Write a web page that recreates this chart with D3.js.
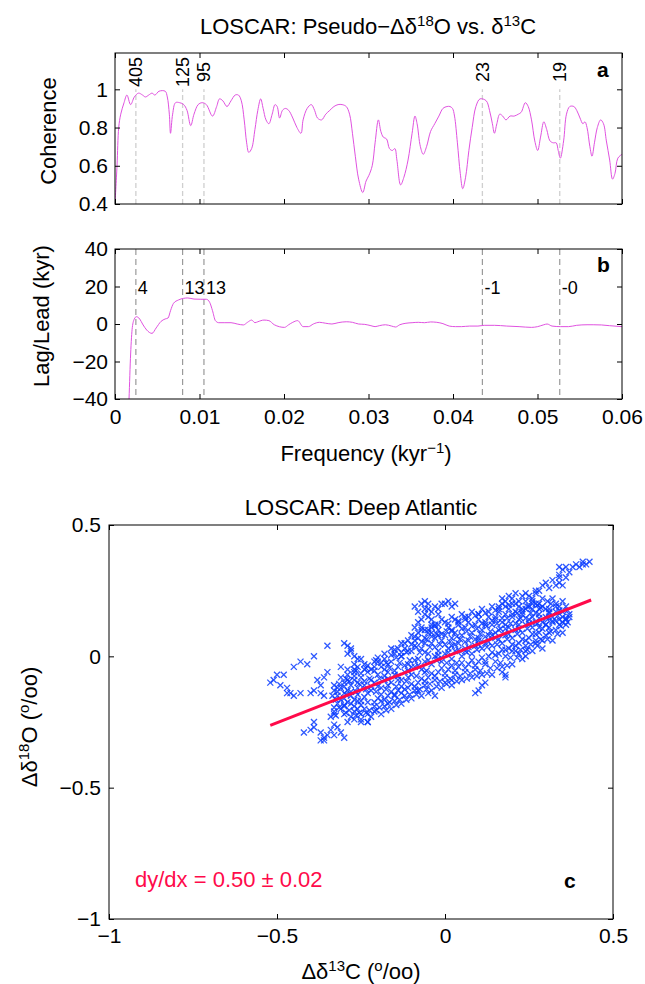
<!DOCTYPE html>
<html>
<head>
<meta charset="utf-8">
<script src="https://d3js.org/d3.v7.min.js"></script>
<style>
  body { margin: 0; background: #fff; }
  svg { font-family: "Liberation Sans", Arial, Helvetica, sans-serif; }
</style>
</head>
<body>
<svg width="645" height="984"></svg>
<script>
// orbital periods (kyr) marked with dashed lines, and the lag read at each
var periods = [405, 125, 95, 23, 19];
var lagLabels = ["4", "13", "13", "-1", "-0"];

// panel a: coherence vs frequency (kyr^-1)
var cohFreq = [0,0.00024,0.00044,0.00068,0.00107,0.00141,0.00185,0.00229,0.00278,0.00326,
  0.0036,0.00399,0.00438,0.00472,0.00521,0.00594,0.00619,0.00643,0.00657,0.00682,
  0.00716,0.00765,0.00813,0.00852,0.00896,0.00935,0.00984,0.01032,0.01081,0.01154,
  0.01203,0.01237,0.01276,0.01325,0.01373,0.01422,0.01461,0.01495,0.01529,0.01558,
  0.01583,0.01617,0.01656,0.0169,0.01724,0.01753,0.01787,0.01821,0.0186,0.01894,
  0.01919,0.01948,0.01982,0.02016,0.02055,0.02104,0.02153,0.02201,0.02226,0.02274,
  0.02323,0.02362,0.02396,0.02445,0.02494,0.02542,0.02591,0.0264,0.02688,0.02737,
  0.02776,0.0281,0.02844,0.02883,0.02932,0.02971,0.03005,0.03044,0.03078,0.03117,
  0.03146,0.03175,0.03214,0.03248,0.03282,0.03312,0.03336,0.0338,0.03419,0.03468,
  0.03516,0.0355,0.03575,0.03614,0.03648,0.03687,0.03735,0.03784,0.03833,0.03881,
  0.0393,0.03964,0.03994,0.04018,0.04052,0.04086,0.04115,0.04149,0.04188,0.04227,
  0.04271,0.0432,0.04393,0.04432,0.04466,0.0449,0.04519,0.04553,0.04588,0.04627,
  0.04675,0.04724,0.04773,0.04807,0.04856,0.0489,0.04929,0.04968,0.05002,0.05036,
  0.05075,0.05109,0.05148,0.05187,0.05221,0.05245,0.0527,0.05309,0.05343,0.05382,
  0.0543,0.05464,0.05503,0.05537,0.05562,0.05586,0.0562,0.05645,0.05674,0.05708,
  0.05747,0.05781,0.05815,0.05854,0.05888,0.05917,0.05951,0.06];
var cohVal = [0.40,0.60,0.80,0.87,0.93,0.97,0.92,0.96,0.98,0.97,
  0.96,0.97,0.98,0.97,0.99,0.99,0.96,0.87,0.77,0.87,
  0.93,0.93,0.92,0.89,0.81,0.87,0.92,0.93,0.92,0.86,
  0.91,0.95,0.94,0.91,0.94,0.97,0.97,0.94,0.84,0.72,
  0.67,0.69,0.79,0.89,0.95,0.90,0.84,0.82,0.87,0.92,
  0.91,0.85,0.89,0.90,0.89,0.85,0.80,0.77,0.84,0.90,
  0.92,0.89,0.85,0.84,0.87,0.89,0.91,0.92,0.92,0.91,
  0.87,0.77,0.65,0.53,0.46,0.52,0.55,0.60,0.72,0.84,
  0.78,0.75,0.74,0.69,0.68,0.69,0.63,0.50,0.54,0.63,
  0.77,0.86,0.82,0.70,0.66,0.70,0.78,0.82,0.86,0.90,
  0.91,0.91,0.90,0.86,0.72,0.56,0.48,0.54,0.68,0.80,
  0.91,0.95,0.94,0.89,0.82,0.77,0.82,0.87,0.86,0.84,
  0.86,0.86,0.87,0.88,0.93,0.91,0.84,0.73,0.68,0.75,
  0.83,0.79,0.73,0.72,0.72,0.68,0.64,0.73,0.87,0.91,
  0.91,0.89,0.85,0.82,0.83,0.80,0.70,0.65,0.72,0.80,
  0.84,0.82,0.73,0.63,0.53,0.56,0.64,0.66];

// panel b: lag/lead (kyr) vs frequency
var lagFreq = [0.0015,0.00166,0.00185,0.00205,0.00229,0.00253,0.00292,0.00326,0.00375,0.00438,
  0.00487,0.00545,0.00594,0.00628,0.00657,0.00692,0.0075,0.00813,0.00862,0.00935,
  0.01008,0.01081,0.0112,0.01154,0.01188,0.01227,0.013,0.01373,0.01446,0.01519,
  0.01568,0.01617,0.01656,0.0169,0.01763,0.01821,0.01885,0.02006,0.02055,0.02104,
  0.02162,0.02226,0.02289,0.02347,0.0242,0.02494,0.02567,0.0264,0.02737,0.0281,
  0.02883,0.02956,0.03029,0.03078,0.03127,0.032,0.03273,0.03321,0.0337,0.03443,
  0.03516,0.03589,0.03662,0.03735,0.03808,0.03881,0.03955,0.04028,0.04101,0.04198,
  0.04295,0.04369,0.0449,0.04636,0.04782,0.04929,0.05002,0.05075,0.05114,0.05172,
  0.0527,0.05367,0.05464,0.05586,0.05659,0.05756,0.05854,0.06];
var lagVal = [-60,-40,-16,-1.8,2.7,3.9,2.7,0,-3.2,-5,
  -2.1,1.4,2.7,3.2,7.1,11,12.8,13.7,13.9,13.3,
  13.2,13.2,11.6,7.1,1.8,0.7,0.7,0.7,0,-0.5,
  0.9,2.1,0.7,1.2,2.1,1.8,-0.4,-1.8,-0.4,0.9,
  1.8,-1.4,-1.4,0,0.9,0.4,0,0.7,1.2,0.9,
  0,-0.2,-0.9,-1.4,-0.9,-0.4,-1.1,-1.6,-0.4,0.4,
  0.7,0.9,0.7,1.1,0.9,0.2,-1.1,-1.4,-1.4,-1.1,
  -1.1,-0.7,-0.7,-1.1,-1.4,-1.8,-1.4,-0.4,0,-1.1,
  -1.4,-1.4,-0.7,-0.4,-0.4,-0.5,-0.9,-1.4];

// panel c: [d13C, d18O] anomalies (permil)
var scatterPts = [
  [-0.52,-0.10],[-0.51,-0.09],[-0.50,-0.07],[-0.49,-0.11],[-0.48,-0.07],[-0.47,-0.12],[-0.47,-0.14],[-0.46,-0.14],
  [-0.45,-0.15],[-0.43,-0.14],[-0.45,-0.04],[-0.43,-0.02],[-0.41,-0.03],[-0.39,0.00],[-0.35,0.04],[-0.40,-0.14],
  [-0.39,-0.13],[-0.37,-0.11],[-0.38,-0.09],[-0.36,-0.08],[-0.35,-0.06],[-0.37,-0.14],[-0.36,-0.15],
  [-0.30,0.05],[-0.29,0.04],[-0.28,0.03],[-0.28,0.02],[-0.27,0.00],[-0.26,-0.01],[-0.25,-0.01],[-0.29,0.01],
  [-0.27,-0.03],[-0.31,-0.04],[-0.29,-0.05],[-0.27,-0.05],
  [-0.42,-0.29],[-0.40,-0.28],[-0.39,-0.25],[-0.39,-0.27],[-0.37,-0.29],[-0.36,-0.31],[-0.36,-0.32],[-0.37,-0.32],
  [-0.35,-0.30],[-0.33,-0.30],[-0.30,-0.31],[-0.34,-0.28],[-0.32,-0.27],[-0.31,-0.29],[-0.33,-0.26],[-0.29,-0.25],
  [-0.27,-0.24],[-0.25,-0.25],[-0.23,-0.25],[-0.34,-0.23],[-0.33,-0.22],
  [-0.09,0.19],[-0.07,0.20],[-0.06,0.21],[-0.05,0.20],[-0.03,0.19],[-0.01,0.20],[0.00,0.20],[0.02,0.19],
  [-0.05,0.18],[-0.05,0.15],[-0.04,0.14],[-0.08,0.13],[-0.07,0.11],[-0.09,0.11],[-0.04,0.11],[-0.03,0.12],[-0.06,0.16],
  [0.23,0.23],[0.24,0.24],[0.26,0.22],[0.27,0.25],[0.29,0.27],[0.30,0.28],[0.32,0.29],[0.34,0.28],[0.34,0.30],
  [0.35,0.33],[0.34,0.34],[0.37,0.32],[0.38,0.34],[0.40,0.34],[0.41,0.35],[0.41,0.36],[0.43,0.36],[0.33,0.27],
  [0.35,0.27],[0.28,0.25],[0.27,0.24],[0.31,0.26],[0.36,0.34],[0.39,0.35],[0.42,0.35],[0.36,0.30],[0.34,0.31],
  [0.36,0.14],[0.37,0.15],[0.35,0.13],[0.32,0.13],[0.28,0.11],[0.31,0.09],[0.29,0.06],[0.27,0.05],[0.24,0.02],
  [0.24,0.00],[0.22,0.01],[0.20,0.02],[0.18,-0.07],[0.18,-0.08],[0.17,-0.06],[0.11,-0.11],[0.10,-0.13],[0.12,-0.10],
  [0.09,-0.14],[0.02,-0.11],[0.00,-0.10],[-0.03,-0.15],[-0.05,-0.14],[-0.08,-0.13],[-0.13,-0.14],[-0.15,-0.15],
  [-0.17,-0.18],[-0.19,-0.17],[-0.21,-0.19],[-0.23,-0.22],[-0.23,-0.25],[-0.25,-0.22],[-0.26,-0.20],[-0.28,-0.18],
  [-0.30,-0.19],[-0.32,-0.15],[-0.33,-0.13],[-0.31,-0.12],[-0.29,-0.09],[-0.27,-0.06],[-0.24,-0.05],[-0.21,-0.04],
  [-0.17,-0.03],[-0.13,0.00],[-0.11,0.02],[-0.09,0.06],[-0.06,0.07],[-0.04,0.09],[-0.02,0.08],[0.02,0.10],
  [0.04,0.13],[0.06,0.14],[0.10,0.16],[0.12,0.13],[0.15,0.15],[0.16,0.19],[0.18,0.21],[0.20,0.20],[0.23,0.17],
  [0.25,0.19],[0.28,0.18],[0.31,0.18],[0.33,0.20],
  [-0.33,-0.21],[-0.32,-0.18],[-0.335,-0.15],[-0.32,-0.12],
  [-0.30,-0.22],[-0.31,-0.20],[-0.30,-0.16],[-0.29,-0.13],[-0.30,-0.10],[-0.31,-0.08],
  [-0.27,-0.21],[-0.28,-0.15],[-0.26,-0.12],[-0.27,-0.09],[-0.28,-0.11],[-0.26,-0.17],[-0.27,-0.19],
  [-0.24,-0.20],[-0.25,-0.17],[-0.23,-0.14],[-0.24,-0.11],[-0.25,-0.08],[-0.23,-0.06],[-0.24,-0.03],
  [-0.21,-0.21],[-0.20,-0.16],[-0.22,-0.13],[-0.21,-0.10],[-0.20,-0.07],[-0.22,-0.05],[-0.21,-0.02],
  [-0.18,-0.19],[-0.17,-0.15],[-0.19,-0.12],[-0.18,-0.09],[-0.17,-0.06],[-0.19,-0.04],[-0.18,-0.01],[-0.17,-0.11],
  [-0.15,-0.17],[-0.14,-0.13],[-0.16,-0.10],[-0.15,-0.07],[-0.14,-0.04],[-0.16,-0.02],[-0.15,0.01],
  [-0.12,-0.15],[-0.11,-0.12],[-0.13,-0.09],[-0.12,-0.06],[-0.11,-0.03],[-0.13,0.00],[-0.12,0.03],[-0.11,-0.08],
  [-0.09,-0.13],[-0.08,-0.10],[-0.10,-0.07],[-0.09,-0.04],[-0.08,-0.01],[-0.10,0.02],[-0.09,0.04],[-0.08,0.07],
  [-0.06,-0.11],[-0.05,-0.08],[-0.07,-0.05],[-0.06,-0.02],[-0.05,0.01],[-0.07,0.03],[-0.06,0.05],[-0.05,0.09],
  [-0.03,-0.09],[-0.02,-0.06],[-0.04,-0.03],[-0.03,0.00],[-0.02,0.02],[-0.04,0.05],[-0.03,0.07],[-0.02,0.10],
  [0.00,-0.08],[0.01,-0.05],[-0.01,-0.02],[0.00,0.01],[0.01,0.03],[-0.01,0.06],[0.00,0.08],[0.01,0.11],
  [0.03,-0.07],[0.04,-0.04],[0.02,-0.01],[0.03,0.02],[0.04,0.05],[0.02,0.07],[0.03,0.09],[0.04,0.12],
  [0.06,-0.06],[0.07,-0.03],[0.05,0.00],[0.06,0.03],[0.07,0.06],[0.05,0.08],[0.06,0.11],[0.07,0.13],
  [0.09,-0.05],[0.10,-0.02],[0.08,0.01],[0.09,0.04],[0.10,0.07],[0.08,0.09],[0.09,0.12],[0.10,0.14],
  [0.12,-0.03],[0.13,0.00],[0.11,0.03],[0.12,0.05],[0.13,0.08],[0.11,0.10],[0.12,0.12],[0.13,0.15],
  [0.15,-0.02],[0.16,0.01],[0.14,0.04],[0.15,0.07],[0.16,0.10],[0.14,0.12],[0.15,0.14],[0.16,0.17],
  [0.18,0.00],[0.19,0.03],[0.17,0.05],[0.18,0.08],[0.19,0.11],[0.17,0.13],[0.18,0.16],[0.19,0.18],
  [0.21,0.02],[0.22,0.05],[0.20,0.07],[0.21,0.10],[0.22,0.12],[0.20,0.15],[0.21,0.17],[0.22,0.19],
  [0.24,0.04],[0.25,0.07],[0.23,0.09],[0.24,0.12],[0.25,0.14],[0.23,0.16],[0.24,0.18],
  [0.27,0.06],[0.28,0.09],[0.26,0.11],[0.27,0.13],[0.28,0.16],[0.26,0.18],[0.27,0.20],
  [0.30,0.08],[0.31,0.11],[0.29,0.13],[0.30,0.15],[0.31,0.17],[0.29,0.19],
  [0.33,0.10],[0.34,0.12],[0.32,0.15],[0.33,0.17],[0.34,0.19],
  [0.36,0.12],[0.37,0.16],[0.35,0.17],[0.36,0.19],
  [-0.315,-0.195],[-0.31,-0.165],[-0.32,-0.135],[-0.315,-0.105],
  [-0.285,-0.205],[-0.29,-0.175],[-0.28,-0.135],[-0.285,-0.095],[-0.29,-0.07],
  [-0.255,-0.215],[-0.25,-0.185],[-0.26,-0.145],[-0.255,-0.105],[-0.25,-0.065],[-0.26,-0.04],
  [-0.225,-0.205],[-0.23,-0.175],[-0.22,-0.115],[-0.225,-0.085],[-0.23,-0.035],
  [-0.195,-0.195],[-0.19,-0.145],[-0.20,-0.115],[-0.195,-0.085],[-0.19,-0.025],[-0.20,-0.005],
  [-0.165,-0.175],[-0.16,-0.135],[-0.17,-0.085],[-0.165,-0.045],[-0.16,0.005],
  [-0.135,-0.165],[-0.13,-0.115],[-0.14,-0.075],[-0.135,-0.025],[-0.13,0.015],[-0.14,0.03],
  [-0.105,-0.145],[-0.10,-0.105],[-0.11,-0.055],[-0.105,-0.015],[-0.10,0.045],[-0.11,0.06],
  [-0.075,-0.125],[-0.07,-0.085],[-0.08,-0.035],[-0.075,0.015],[-0.07,0.055],[-0.08,0.09],
  [-0.045,-0.105],[-0.04,-0.065],[-0.05,-0.015],[-0.045,0.035],[-0.04,0.075],[-0.05,0.10],
  [-0.015,-0.095],[-0.01,-0.045],[-0.02,0.005],[-0.015,0.045],[-0.01,0.085],[-0.02,0.12],
  [0.015,-0.085],[0.02,-0.035],[0.01,0.015],[0.015,0.055],[0.02,0.095],[0.01,0.125],
  [0.045,-0.075],[0.05,-0.025],[0.04,0.025],[0.045,0.065],[0.05,0.105],[0.04,0.135],
  [0.075,-0.065],[0.08,-0.015],[0.07,0.035],[0.075,0.075],[0.08,0.115],[0.07,0.15],
  [0.105,-0.055],[0.11,-0.005],[0.10,0.045],[0.105,0.085],[0.11,0.125],[0.10,0.16],
  [0.135,-0.045],[0.14,0.015],[0.13,0.055],[0.135,0.095],[0.14,0.135],[0.13,0.17],
  [0.165,-0.025],[0.17,0.025],[0.16,0.065],[0.165,0.105],[0.17,0.145],[0.16,0.18],
  [0.195,-0.005],[0.20,0.045],[0.19,0.085],[0.195,0.125],[0.20,0.16],[0.19,0.195],
  [0.225,0.025],[0.23,0.065],[0.22,0.105],[0.225,0.145],[0.23,0.18],
  [0.255,0.045],[0.26,0.085],[0.25,0.125],[0.255,0.165],[0.26,0.20],
  [0.285,0.065],[0.29,0.105],[0.28,0.145],[0.285,0.185],
  [0.315,0.095],[0.32,0.135],[0.31,0.165],[0.315,0.20],
  [0.345,0.115],[0.35,0.15],[0.34,0.175],
  [-0.325,-0.225],[-0.33,-0.195],[-0.325,-0.165],[-0.33,-0.11],
  [-0.295,-0.215],[-0.30,-0.185],[-0.295,-0.145],[-0.30,-0.115],[-0.295,-0.085],
  [-0.265,-0.225],[-0.27,-0.165],[-0.265,-0.135],[-0.27,-0.075],[-0.265,-0.055],
  [-0.235,-0.215],[-0.24,-0.155],[-0.235,-0.125],[-0.24,-0.095],[-0.235,-0.045],
  [-0.205,-0.205],[-0.21,-0.175],[-0.205,-0.135],[-0.21,-0.055],[-0.205,-0.015],
  [-0.175,-0.205],[-0.18,-0.165],[-0.175,-0.125],[-0.18,-0.075],[-0.175,-0.025],[-0.18,0.01],
  [-0.145,-0.185],[-0.15,-0.145],[-0.145,-0.115],[-0.15,-0.055],[-0.145,-0.005],[-0.15,0.025],
  [-0.115,-0.165],[-0.12,-0.125],[-0.115,-0.095],[-0.12,-0.035],[-0.115,0.015],[-0.12,0.05],
  [-0.085,-0.145],[-0.09,-0.115],[-0.085,-0.075],[-0.09,-0.015],[-0.085,0.035],[-0.09,0.075],
  [-0.055,-0.125],[-0.06,-0.095],[-0.055,-0.055],[-0.06,0.015],[-0.055,0.065],[-0.06,0.10],
  [-0.025,-0.115],[-0.03,-0.075],[-0.025,-0.015],[-0.03,0.035],[-0.025,0.085],[-0.03,0.115],
  [0.005,-0.105],[0.00,-0.065],[0.005,-0.025],[0.00,0.045],[0.005,0.095],[0.00,0.13],
  [0.035,-0.095],[0.03,-0.055],[0.035,-0.025],[0.03,0.045],[0.035,0.075],[0.03,0.14],
  [0.065,-0.085],[0.06,-0.045],[0.065,0.015],[0.06,0.055],[0.065,0.095],[0.06,0.15],
  [0.095,-0.075],[0.09,-0.035],[0.095,0.025],[0.09,0.065],[0.095,0.105],[0.09,0.155],
  [0.125,-0.065],[0.12,-0.02],[0.125,0.035],[0.12,0.075],[0.125,0.115],[0.12,0.165],
  [0.155,-0.045],[0.15,0.005],[0.155,0.045],[0.15,0.09],[0.155,0.125],[0.15,0.175],
  [0.185,-0.035],[0.18,0.025],[0.185,0.065],[0.18,0.105],[0.185,0.145],[0.18,0.19],
  [0.215,-0.005],[0.21,0.04],[0.215,0.085],[0.21,0.125],[0.215,0.165],[0.21,0.20],
  [0.245,0.025],[0.24,0.06],[0.245,0.105],[0.24,0.145],[0.245,0.19],[0.24,0.21],
  [0.275,0.04],[0.27,0.085],[0.275,0.125],[0.27,0.165],[0.275,0.195],
  [0.305,0.065],[0.30,0.12],[0.305,0.14],[0.30,0.18],[0.305,0.21],
  [0.335,0.085],[0.33,0.135],[0.335,0.155],[0.33,0.19],
  [0.365,0.13],[0.36,0.145],[0.365,0.175],
  [-0.20,-0.02],[-0.16,0.03],[-0.13,0.05],[-0.10,0.08],[-0.07,0.10],[-0.04,0.12],[-0.01,0.14],[0.02,0.15],
  [0.05,0.16],[0.08,0.17],[0.11,0.18],[0.14,0.19],[0.17,0.20],[0.20,0.22],[0.22,0.21],[0.26,0.21],
  [0.29,0.22],[0.32,0.22],[0.35,0.21],
  [-0.28,-0.23],[-0.25,-0.24],[-0.22,-0.23],[-0.19,-0.22],[-0.16,-0.20],[-0.13,-0.18],[-0.10,-0.16],[-0.07,-0.15],
  [-0.04,-0.13],[-0.01,-0.12],[0.02,-0.09],[0.05,-0.09],[0.08,-0.08],[0.11,-0.07],[0.14,-0.07],[0.17,-0.04],
  [0.20,-0.03],[0.23,-0.01],[0.26,0.02],[0.29,0.03],[0.32,0.06],[0.35,0.09],
  [-0.30,-0.14],[-0.26,-0.10],[-0.22,-0.09],[-0.18,-0.05],[-0.14,-0.09],[-0.10,-0.04],[-0.06,-0.06],[-0.02,-0.01],
  [0.02,0.04],[0.06,0.02],[0.10,0.06],[0.14,0.08],[0.18,0.12],[0.22,0.14],[0.26,0.15],[0.30,0.12],[0.34,0.14],
  [-0.08,0.17],[-0.06,0.18],[-0.04,0.17],[-0.02,0.18],[0.01,0.21],[0.03,0.20],[-0.07,0.14],[-0.02,0.16],
  [0.17,0.22],[0.19,0.23],[0.21,0.24],[0.25,0.23],[0.28,0.20]
];

// least-squares fit shown in red
var fitSlope = 0.50, fitErr = 0.02, fitIntercept = -0.003;
var fitRange = [-0.52, 0.435];

var freqTicks = [0, 0.01, 0.02, 0.03, 0.04, 0.05, 0.06];
var cohTicks = [0.4, 0.6, 0.8, 1];
var lagTicks = [-40, -20, 0, 20, 40];
var isoTicks = [-1, -0.5, 0, 0.5];

var svg = d3.select("svg");
var magenta = "#e052e0";

var boxA = {left: 115, right: 622, top: 53, bottom: 204};
var boxB = {left: 115, right: 622, top: 249, bottom: 399};
var boxC = {left: 109, right: 613, top: 525, bottom: 919};

var x = d3.scaleLinear().domain([0, 0.06]).range([boxA.left, boxA.right]);
var yA = d3.scaleLinear().domain([0.4, 1.19]).range([boxA.bottom, boxA.top]);
var yB = d3.scaleLinear().domain([-40, 40]).range([boxB.bottom, boxB.top]);
var xC = d3.scaleLinear().domain([-1, 0.5]).range([boxC.left, boxC.right]);
var yC = d3.scaleLinear().domain([-1, 0.5]).range([boxC.bottom, boxC.top]);

function signed(d) { return d < 0 ? "\u2212" + Math.abs(d) : String(d); }
function blank() { return ""; }

// box with inward ticks on all four sides, labels on left and bottom
function frame(box, xs, ys, xTicks, yTicks, xFmt, yFmt, xPad, yPad) {
  var g = svg.append("g");
  var sides = [
    [d3.axisBottom(xs).tickValues(xTicks).tickFormat(xFmt).tickPadding(xPad), "translate(0," + box.bottom + ")"],
    [d3.axisTop(xs).tickValues(xTicks).tickFormat(blank), "translate(0," + box.top + ")"],
    [d3.axisLeft(ys).tickValues(yTicks).tickFormat(yFmt).tickPadding(yPad), "translate(" + box.left + ",0)"],
    [d3.axisRight(ys).tickValues(yTicks).tickFormat(blank), "translate(" + box.right + ",0)"]
  ];
  sides.forEach(function(s) {
    var a = g.append("g").attr("transform", s[1])
      .call(s[0].tickSizeInner(-5).tickSizeOuter(0));
    a.attr("font-size", 21).attr("font-family", null);
    a.select(".domain").remove();
  });
  g.append("rect")
    .attr("x", box.left).attr("y", box.top)
    .attr("width", box.right - box.left).attr("height", box.bottom - box.top)
    .attr("fill", "none").attr("stroke", "#000").attr("stroke-width", 1);
  return g;
}

function clip(id, box) {
  svg.append("clipPath").attr("id", id).append("rect")
    .attr("x", box.left).attr("y", box.top)
    .attr("width", box.right - box.left).attr("height", box.bottom - box.top);
}
clip("clipA", boxA);
clip("clipB", boxB);

// ---------- panel a ----------
svg.append("g").selectAll("line").data(periods).enter().append("line")
  .attr("x1", function(p) { return x(1 / p); }).attr("x2", function(p) { return x(1 / p); })
  .attr("y1", yA(0.4)).attr("y2", yA(1))
  .attr("stroke", "#cfcfcf").attr("stroke-width", 1.3).attr("stroke-dasharray", "5,3");

var cohData = d3.zip(cohFreq, cohVal);
svg.append("path").datum(cohData)
  .attr("clip-path", "url(#clipA)")
  .attr("fill", "none").attr("stroke", magenta).attr("stroke-width", 1)
  .attr("d", d3.line().x(function(d) { return x(d[0]); }).y(function(d) { return yA(d[1]); })
    .curve(d3.curveCatmullRom.alpha(0.5)));

svg.append("g").selectAll("text").data(periods).enter().append("text")
  .attr("transform", function(p) { return "translate(" + (x(1 / p) + 6.5) + ",72) rotate(-90)"; })
  .attr("text-anchor", "middle").attr("font-size", 18)
  .text(function(p) { return p; });

frame(boxA, x, yA, freqTicks, cohTicks, blank, String, 10, 7);

// ---------- panel b ----------
svg.append("g").selectAll("line").data(periods).enter().append("line")
  .attr("x1", function(p) { return x(1 / p); }).attr("x2", function(p) { return x(1 / p); })
  .attr("y1", boxB.top).attr("y2", boxB.bottom)
  .attr("stroke", "#9a9a9a").attr("stroke-width", 1.2).attr("stroke-dasharray", "6,4");

var lagData = d3.zip(lagFreq, lagVal);
svg.append("path").datum(lagData)
  .attr("clip-path", "url(#clipB)")
  .attr("fill", "none").attr("stroke", magenta).attr("stroke-width", 1)
  .attr("d", d3.line().x(function(d) { return x(d[0]); }).y(function(d) { return yB(d[1]); })
    .curve(d3.curveMonotoneX));

svg.append("g").selectAll("text").data(periods).enter().append("text")
  .attr("x", function(p) { return x(1 / p) + 2; }).attr("y", 294)
  .attr("font-size", 18)
  .text(function(p, i) { return lagLabels[i]; });

frame(boxB, x, yB, freqTicks, lagTicks,
  function(d) { return d === 0 ? "0" : d.toFixed(2); }, signed, 10, 7);

// panel letters
svg.append("text").attr("x", 597).attr("y", 77).attr("font-size", 21).attr("font-weight", "bold").text("a");
svg.append("text").attr("x", 597).attr("y", 272).attr("font-size", 21).attr("font-weight", "bold").text("b");

// titles and axis labels (top figure)
var t1 = svg.append("text").attr("x", 368).attr("y", 34).attr("text-anchor", "middle").attr("font-size", 22);
t1.append("tspan").text("LOSCAR: Pseudo\u2212\u0394\u03b4");
t1.append("tspan").attr("dy", -8).attr("font-size", 15).text("18");
t1.append("tspan").attr("dy", 8).text("O vs. \u03b4");
t1.append("tspan").attr("dy", -8).attr("font-size", 15).text("13");
t1.append("tspan").attr("dy", 8).text("C");

svg.append("text").attr("transform", "translate(56,131) rotate(-90)")
  .attr("text-anchor", "middle").attr("font-size", 22).text("Coherence");
svg.append("text").attr("transform", "translate(49,316) rotate(-90)")
  .attr("text-anchor", "middle").attr("font-size", 22).text("Lag/Lead (kyr)");

var fl = svg.append("text").attr("x", 366).attr("y", 461).attr("text-anchor", "middle").attr("font-size", 22);
fl.append("tspan").text("Frequency (kyr");
fl.append("tspan").attr("dy", -8).attr("font-size", 15).text("\u22121");
fl.append("tspan").attr("dy", 8).text(")");

// ---------- panel c ----------
svg.append("g").selectAll("path").data(scatterPts).enter().append("path")
  .attr("transform", function(d) { return "translate(" + xC(d[0]) + "," + yC(d[1]) + ")"; })
  .attr("d", "M-3,-3L3,3M-3,3L3,-3")
  .attr("stroke", "#0a3cff").attr("stroke-opacity", 0.85).attr("stroke-width", 1.3).attr("fill", "none");

svg.append("line")
  .attr("x1", xC(fitRange[0])).attr("y1", yC(fitIntercept + fitSlope * fitRange[0]))
  .attr("x2", xC(fitRange[1])).attr("y2", yC(fitIntercept + fitSlope * fitRange[1]))
  .attr("stroke", "#ff0a4a").attr("stroke-width", 3);

frame(boxC, xC, yC, isoTicks, isoTicks, signed, signed, 9, 8);

svg.append("text").attr("x", 135).attr("y", 887).attr("font-size", 22).attr("fill", "#ff0a4a")
  .text("dy/dx = " + fitSlope.toFixed(2) + " \u00b1 " + fitErr.toFixed(2));
svg.append("text").attr("x", 564).attr("y", 888).attr("font-size", 21).attr("font-weight", "bold").text("c");

svg.append("text").attr("x", 361).attr("y", 515).attr("text-anchor", "middle").attr("font-size", 22)
  .text("LOSCAR: Deep Atlantic");

var yl = svg.append("text").attr("transform", "translate(37,727) rotate(-90)")
  .attr("text-anchor", "middle").attr("font-size", 22);
yl.append("tspan").text("\u0394\u03b4");
yl.append("tspan").attr("dy", -8).attr("font-size", 15).text("18");
yl.append("tspan").attr("dy", 8).text("O (");
yl.append("tspan").attr("dy", -8).attr("font-size", 15).text("o");
yl.append("tspan").attr("dy", 8).text("/oo)");

var xl = svg.append("text").attr("x", 361).attr("y", 979).attr("text-anchor", "middle").attr("font-size", 22);
xl.append("tspan").text("\u0394\u03b4");
xl.append("tspan").attr("dy", -8).attr("font-size", 15).text("13");
xl.append("tspan").attr("dy", 8).text("C (");
xl.append("tspan").attr("dy", -8).attr("font-size", 15).text("o");
xl.append("tspan").attr("dy", 8).text("/oo)");
</script>
</body>
</html>
